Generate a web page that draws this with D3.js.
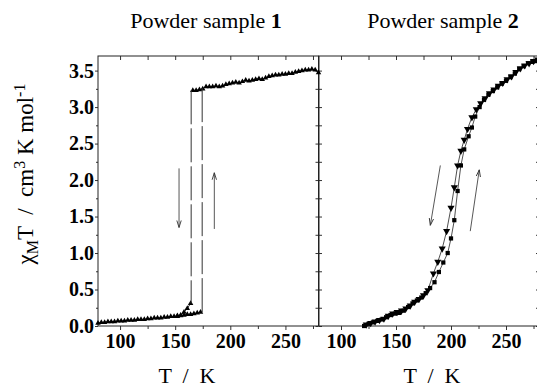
<!DOCTYPE html>
<html>
<head>
<meta charset="utf-8">
<style>
body{margin:0;background:#fff;}
svg text{font-family:"Liberation Serif","Times New Roman",serif;fill:#000;}
.tick text{font-weight:bold;font-size:20px;font-family:"Liberation Serif","Times New Roman",serif;}
</style>
<script src="https://cdn.jsdelivr.net/npm/d3@7"></script>
</head>
<body>
<div id="canvas"></div>
<script>
// ---- data ----
// sample 1 : low spin part (both branches overlap here)
var s1LowT   = [80,83,86,89,92,95,98,101,104,107,110,113,116,119,122,125,128,131,134,137,140,143,146,149,152,155,158,161,164,167,170,173];
var s1LowChi = [0.04,0.05,0.05,0.06,0.06,0.06,0.07,0.07,0.07,0.08,0.08,0.08,0.09,0.09,0.09,0.10,0.10,0.11,0.11,0.11,0.12,0.12,0.13,0.13,0.14,0.14,0.15,0.16,0.16,0.17,0.18,0.19];
// sample 1 : cooling tail just before the jump
var s1CoolT   = [152,155,158,161,164];
var s1CoolChi = [0.13,0.15,0.19,0.24,0.31];
// sample 1 : high spin part
var s1HighT   = [166,169,172,175,178,181,184,187,190,193,196,199,202,205,208,211,214,217,220,223,226,229,232,235,238,241,244,247,250,253,256,259,262,265,268,271,274,277,280];
var s1HighChi = [3.23,3.23,3.24,3.25,3.28,3.28,3.28,3.29,3.28,3.29,3.31,3.32,3.33,3.34,3.33,3.35,3.37,3.36,3.37,3.38,3.39,3.38,3.40,3.42,3.43,3.44,3.44,3.45,3.45,3.46,3.46,3.48,3.49,3.50,3.51,3.51,3.52,3.51,3.47];
// sample 1 : abrupt jumps [T, from, to]
var s1Jumps = [[164.5,3.23,0.31],[174.5,0.19,3.27]];

// sample 2 : heating (squares)
var s2HeatT   = [121,125,129,133,137,141,145,149,153,157,161,165,169,173,177,181,185,189,193,197,200,203,206,209,212,216,219,222,226,230,234,238,242,246,250,254,258,262,266,270,274,278];
var s2HeatChi = [0.00,0.03,0.05,0.07,0.09,0.12,0.15,0.17,0.18,0.21,0.26,0.31,0.35,0.39,0.45,0.52,0.60,0.74,0.87,1.00,1.20,1.45,1.85,2.20,2.42,2.60,2.72,2.87,3.00,3.10,3.17,3.22,3.27,3.32,3.36,3.41,3.46,3.52,3.56,3.60,3.62,3.63];
// sample 2 : cooling (down triangles)
var s2CoolT   = [123,127,131,135,139,143,147,151,155,159,163,167,171,175,179,184,188,192,196,200,203,206,209,212,215,219,223,227,231,235,239,243,247,251,255,259,263,267,271,275,279];
var s2CoolChi = [0.02,0.04,0.06,0.08,0.10,0.14,0.17,0.19,0.21,0.24,0.28,0.33,0.37,0.42,0.49,0.72,0.88,1.06,1.30,1.62,1.90,2.20,2.40,2.55,2.70,2.86,2.97,3.05,3.12,3.19,3.24,3.29,3.33,3.38,3.42,3.48,3.53,3.57,3.60,3.63,3.65];

// arrows [T1, chi1, T2, chi2]
var s1Arrows = [[153.5,2.16,153.5,1.35],[185.5,1.33,185.5,2.10]];
var s2Arrows = [[190.3,2.20,181.2,1.38],[217.5,1.30,225.7,2.14]];

// ticks
var xMajor = [100,150,200,250];
var xMinor = [125,175,225,275];
var yMajor = [0,0.5,1,1.5,2,2.5,3,3.5];
var yMinor = [0.25,0.75,1.25,1.75,2.25,2.75,3.25];
var titles = ['Powder sample ', 'Powder sample '];
var sampleNo = ['1','2'];

// ---- layout ----
var W = 537, H = 389;
var t = 56, b = 326;
var serif = '"Liberation Serif","Times New Roman",serif';

var svg = d3.select('#canvas').append('svg')
    .attr('width', W).attr('height', H);

svg.append('defs').append('marker')
    .attr('id','head')
    .attr('markerUnits','userSpaceOnUse')
    .attr('markerWidth',8).attr('markerHeight',6)
    .attr('refX',7).attr('refY',3)
    .attr('orient','auto')
    .append('path').attr('d','M0,0.8 L7,3 L0,5.2').attr('fill','none').attr('stroke','#333').attr('stroke-width',0.9);

var y = d3.scaleLinear().domain([0,3.7]).range([b,t]);
var x1 = d3.scaleLinear().domain([80,280]).range([98,318.5]);
var x2 = d3.scaleLinear().domain([80,280]).range([319,539]);

function pts(T, C){ return T.map(function(d,i){ return [d, C[i]]; }); }

function frame(x, labels){
    var x0 = x.range()[0], xr = x.range()[1];
    var g = svg.append('g');

    // bottom, outward
    g.append('g').attr('transform','translate(0,'+b+')')
        .call(d3.axisBottom(x).tickValues(xMajor).tickSize(4).tickPadding(4).tickFormat(d3.format('d')));
    g.append('g').attr('transform','translate(0,'+b+')')
        .call(d3.axisBottom(x).tickValues(xMinor).tickSize(3).tickFormat(''));
    // top, inward
    g.append('g').attr('transform','translate(0,'+t+')')
        .call(d3.axisBottom(x).tickValues(xMajor.concat(xMinor)).tickSize(4).tickFormat(''));
    // left
    if(labels){
        g.append('g').attr('transform','translate('+x0+',0)')
            .call(d3.axisLeft(y).tickValues(yMajor).tickSize(3).tickPadding(1).tickFormat(d3.format('.1f')));
        g.append('g').attr('transform','translate('+x0+',0)')
            .call(d3.axisLeft(y).tickValues(yMinor).tickSize(2).tickFormat(''));
    } else {
        g.append('g').attr('transform','translate('+x0+',0)')
            .call(d3.axisRight(y).tickValues(yMajor.concat(yMinor)).tickSize(3).tickFormat(''));
    }
    // right, inward
    g.append('g').attr('transform','translate('+xr+',0)')
        .call(d3.axisLeft(y).tickValues(yMajor.concat(yMinor)).tickSize(3).tickFormat(''));

    g.selectAll('g').attr('font-family', serif).attr('font-size', 20);
    g.selectAll('.domain').remove();
    g.selectAll('.tick line').attr('stroke','#333');

    g.append('rect')
        .attr('x',x0).attr('y',t)
        .attr('width',xr-x0).attr('height',b-t)
        .attr('fill','none').attr('stroke','#222').attr('stroke-width',1);
}

frame(x1, true);
frame(x2, false);

// ---- sample 1 ----
var line1 = d3.line().x(function(d){return x1(d[0]);}).y(function(d){return y(d[1]);});
var p1 = svg.append('g');
[pts(s1LowT,s1LowChi), pts(s1CoolT,s1CoolChi), pts(s1HighT,s1HighChi)].forEach(function(s){
    p1.append('path').datum(s).attr('d',line1)
        .attr('fill','none').attr('stroke','#000').attr('stroke-width',0.8);
    p1.selectAll(null).data(s).enter().append('path')
        .attr('transform',function(d){return 'translate('+x1(d[0])+','+y(d[1])+')';})
        .attr('d', d3.symbol().type(d3.symbolTriangle).size(13))
        .attr('fill','#000');
});
p1.selectAll('.jump').data(s1Jumps).enter().append('line')
    .attr('class','jump')
    .attr('x1',function(d){return x1(d[0]);}).attr('x2',function(d){return x1(d[0]);})
    .attr('y1',function(d){return y(d[1]);}).attr('y2',function(d){return y(d[2]);})
    .attr('stroke','#333').attr('stroke-width',1).attr('stroke-dasharray','34,4');

p1.selectAll('.arr').data(s1Arrows).enter().append('line')
    .attr('x1',function(d){return x1(d[0]);}).attr('y1',function(d){return y(d[1]);})
    .attr('x2',function(d){return x1(d[2]);}).attr('y2',function(d){return y(d[3]);})
    .attr('stroke','#444').attr('stroke-width',0.9).attr('marker-end','url(#head)');

// ---- sample 2 ----
var line2 = d3.line().x(function(d){return x2(d[0]);}).y(function(d){return y(d[1]);});
var p2 = svg.append('g');
var heat = pts(s2HeatT,s2HeatChi), cool = pts(s2CoolT,s2CoolChi);
[heat, cool].forEach(function(s){
    p2.append('path').datum(s).attr('d',line2)
        .attr('fill','none').attr('stroke','#222').attr('stroke-width',0.8);
});
p2.selectAll('.sq').data(heat).enter().append('path')
    .attr('transform',function(d){return 'translate('+x2(d[0])+','+y(d[1])+')';})
    .attr('d', d3.symbol().type(d3.symbolSquare).size(18))
    .attr('fill','#000');
p2.selectAll('.tri').data(cool).enter().append('path')
    .attr('transform',function(d){return 'translate('+x2(d[0])+','+y(d[1])+') rotate(180)';})
    .attr('d', d3.symbol().type(d3.symbolTriangle).size(22))
    .attr('fill','#000');
p2.selectAll('.arr').data(s2Arrows).enter().append('line')
    .attr('x1',function(d){return x2(d[0]);}).attr('y1',function(d){return y(d[1]);})
    .attr('x2',function(d){return x2(d[2]);}).attr('y2',function(d){return y(d[3]);})
    .attr('stroke','#444').attr('stroke-width',0.9).attr('marker-end','url(#head)');

// ---- texts ----
[206, 443].forEach(function(cx,i){
    var tt = svg.append('text').attr('x',cx).attr('y',28)
        .attr('text-anchor','middle').style('font-size','22px');
    tt.append('tspan').text(titles[i]);
    tt.append('tspan').style('font-weight','bold').text(sampleNo[i]);
});

[187, 432].forEach(function(cx){
    svg.append('text').attr('x',cx).attr('y',383)
        .attr('text-anchor','middle').style('font-size','22px')
        .style('white-space','pre').text('T  /  K');
});

var yl = svg.append('text')
    .attr('transform','translate(33,174) rotate(-90)')
    .attr('text-anchor','middle').style('font-size','23px')
    .style('white-space','pre');
yl.append('tspan').text('\u03c7');
yl.append('tspan').attr('dy',5).style('font-size','16px').text('M');
yl.append('tspan').attr('dy',-5).text('T  /  cm');
yl.append('tspan').attr('dy',-8).style('font-size','16px').text('3');
yl.append('tspan').attr('dy',8).text(' K mol');
yl.append('tspan').attr('dy',-8).style('font-size','16px').text('-1');
</script>
</body>
</html>
